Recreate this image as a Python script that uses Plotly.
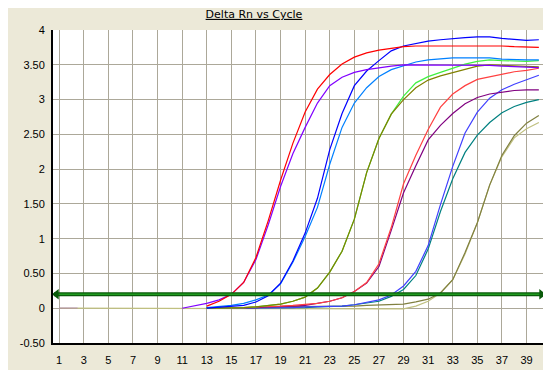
import plotly.graph_objects as go

# ---------------- data ----------------
title_text = "Delta Rn vs Cycle"
x_tickvals = list(range(1, 41, 2))
y_tickvals = [4, 3.5, 3, 2.5, 2, 1.5, 1, 0.5, 0, -0.5]
y_ticktext = ["4", "3.50", "3", "2.50", "2", "1.50", "1", "0.50", "0", "-0.50"]
threshold = 0.2

early_cycles = [1, 2.5]
early_values = [0.0, 0.0]

# first cycle of each curve
red1_start = 13
red1 = [0.03, 0.1, 0.2, 0.37, 0.73, 1.26, 1.84, 2.37, 2.82, 3.15, 3.36, 3.51, 3.61, 3.67,
        3.71, 3.74, 3.76, 3.77, 3.77, 3.77, 3.78, 3.78, 3.78, 3.78, 3.77, 3.76, 3.75, 3.75]
violet1_start = 11
violet1 = [0.0, 0.03, 0.07, 0.12, 0.2, 0.37, 0.7, 1.2, 1.75, 2.22, 2.6, 2.95, 3.2, 3.32, 3.39,
           3.43, 3.46, 3.48, 3.5, 3.5, 3.5, 3.5, 3.5, 3.5, 3.49, 3.49, 3.48, 3.47, 3.46, 3.46]
blue2_start = 13
blue2 = [0.0, 0.01, 0.02, 0.04, 0.09, 0.18, 0.36, 0.68, 1.08, 1.58, 2.28, 2.8, 3.2, 3.41,
         3.56, 3.7, 3.77, 3.81, 3.84, 3.86, 3.88, 3.89, 3.9, 3.9, 3.88, 3.86, 3.85, 3.86]
sky2_start = 13
sky2 = [0.01, 0.02, 0.04, 0.07, 0.12, 0.19, 0.35, 0.66, 1.03, 1.45, 2.07, 2.6, 2.95, 3.17,
        3.33, 3.43, 3.49, 3.54, 3.57, 3.59, 3.6, 3.6, 3.6, 3.6, 3.58, 3.57, 3.57, 3.57]
green3_start = 13
green3 = [0.0, 0.0, 0.01, 0.01, 0.02, 0.04, 0.06, 0.1, 0.16, 0.29, 0.52, 0.82, 1.28, 1.95,
          2.44, 2.79, 3.05, 3.24, 3.33, 3.39, 3.45, 3.51, 3.55, 3.57, 3.56, 3.55, 3.55, 3.56]
olive3_start = 13
olive3 = [0.0, 0.0, 0.01, 0.01, 0.02, 0.04, 0.06, 0.1, 0.16, 0.29, 0.52, 0.82, 1.28, 1.95,
          2.44, 2.79, 3.0, 3.17, 3.28, 3.34, 3.39, 3.44, 3.48, 3.5, 3.49, 3.48, 3.47, 3.47]
lightred4_start = 13
lightred4 = [0.0, 0.0, 0.01, 0.01, 0.02, 0.02, 0.03, 0.04, 0.05, 0.07, 0.1, 0.15, 0.24, 0.37,
             0.64, 1.16, 1.79, 2.2, 2.57, 2.89, 3.08, 3.2, 3.29, 3.33, 3.37, 3.4, 3.42, 3.45]
purple4_start = 13
purple4 = [0.0, 0.0, 0.0, 0.01, 0.01, 0.02, 0.02, 0.03, 0.04, 0.07, 0.1, 0.15, 0.24, 0.36,
           0.6, 1.12, 1.66, 2.05, 2.42, 2.63, 2.8, 2.94, 3.03, 3.08, 3.11, 3.13, 3.14, 3.14]
blue5_start = 13
blue5 = [0.0, 0.0, 0.0, 0.0, 0.01, 0.01, 0.01, 0.01, 0.02, 0.02, 0.03, 0.03, 0.05, 0.08,
         0.12, 0.19, 0.32, 0.53, 0.9, 1.49, 2.04, 2.52, 2.82, 3.02, 3.14, 3.22, 3.29, 3.35]
teal5_start = 13
teal5 = [0.0, 0.0, 0.0, 0.0, 0.0, 0.01, 0.01, 0.01, 0.01, 0.02, 0.02, 0.03, 0.05, 0.07,
         0.1, 0.17, 0.27, 0.47, 0.85, 1.39, 1.86, 2.24, 2.49, 2.67, 2.81, 2.9, 2.96, 3.0]
khaki6_start = 13
khaki6 = [0.0, 0.0, 0.01, 0.01, 0.01, 0.02, 0.02, 0.02, 0.02, 0.02, 0.02, 0.03, 0.03, 0.04,
          0.05, 0.05, 0.06, 0.09, 0.13, 0.22, 0.41, 0.8, 1.23, 1.77, 2.2, 2.48, 2.66, 2.77]
pale6_start = 1
pale6 = [0.0, 0.0, 0.0, 0.0, 0.0, 0.0, 0.0, 0.0, 0.0, 0.0, 0.0, 0.0, 0.0,
         -0.01, -0.01, -0.01, -0.01, -0.01, -0.01, -0.01, -0.01, -0.01, -0.01, -0.01, -0.01,
         -0.01, -0.01, -0.01, -0.01, 0.03, 0.1, 0.22, 0.41, 0.78, 1.23, 1.77, 2.18, 2.45, 2.58, 2.67]

series = [
    ("pale6", "#c0c080", pale6_start, pale6),
    ("khaki6", "#808040", khaki6_start, khaki6),
    ("teal5", "#008080", teal5_start, teal5),
    ("blue5", "#4040ff", blue5_start, blue5),
    ("purple4", "#800080", purple4_start, purple4),
    ("lightred4", "#ff4040", lightred4_start, lightred4),
    ("green3", "#40f040", green3_start, green3),
    ("olive3", "#808000", olive3_start, olive3),
    ("sky2", "#0080ff", sky2_start, sky2),
    ("blue2", "#0000ff", blue2_start, blue2),
    ("violet1", "#8000ff", violet1_start, violet1),
    ("red1", "#ff0000", red1_start, red1),
]

# ---------------- figure ----------------
fig = go.Figure()

fig.add_trace(go.Scatter(x=early_cycles, y=early_values, mode="lines",
                         line=dict(color="#8000ff", width=1), showlegend=False,
                         hoverinfo="skip"))

for name, color, start, vals in series:
    xs = list(range(start, start + len(vals)))
    fig.add_trace(go.Scatter(x=xs, y=vals, mode="lines", name=name,
                             line=dict(color=color, width=1.2), showlegend=False))

# threshold line with arrowheads
fig.add_trace(go.Scatter(x=[0.6, 40.4], y=[threshold, threshold], mode="lines",
                         line=dict(color="#0a5a0a", width=4), showlegend=False,
                         hoverinfo="skip"))
fig.add_trace(go.Scatter(x=[0.6, 40.4], y=[threshold, threshold], mode="lines",
                         line=dict(color="#1f9a1f", width=1.5), showlegend=False,
                         hoverinfo="skip"))
fig.add_trace(go.Scatter(x=[0.78, 40.22], y=[threshold, threshold], mode="markers",
                         marker=dict(symbol=["triangle-left", "triangle-right"], size=9,
                                     color="#0a5a0a"),
                         showlegend=False, hoverinfo="skip", cliponaxis=False))

fig.update_layout(
    width=551, height=370,
    margin=dict(l=26, r=14, t=22, b=26, pad=0),
    paper_bgcolor="#ece9d8",
    plot_bgcolor="#ffffff",
    font=dict(family="Liberation Sans, Arial, sans-serif", size=11, color="#000000"),
    title=dict(text="<u>" + title_text + "</u>", x=246 / 551, xanchor="center",
               xref="container", y=1 - 6 / 370, yanchor="middle", yref="container",
               font=dict(family="DejaVu Sans, sans-serif", size=11, color="#000000")),
    showlegend=False,
)

fig.update_xaxes(range=[0.5, 40.5], tickvals=x_tickvals, ticks="",
                 showgrid=True, gridcolor="#aca899", gridwidth=1,
                 showline=True, linecolor="#000000", linewidth=2, mirror=False,
                 zeroline=False, ticklabelstandoff=6,
                 tickfont=dict(size=11))
fig.update_yaxes(range=[-0.5, 4], tickvals=y_tickvals, ticktext=y_ticktext, ticks="",
                 showgrid=True, gridcolor="#aca899", gridwidth=1,
                 showline=True, linecolor="#000000", linewidth=2, mirror=True,
                 zeroline=False, ticklabelstandoff=4,
                 tickfont=dict(size=11))

fig.write_html("out.html")
